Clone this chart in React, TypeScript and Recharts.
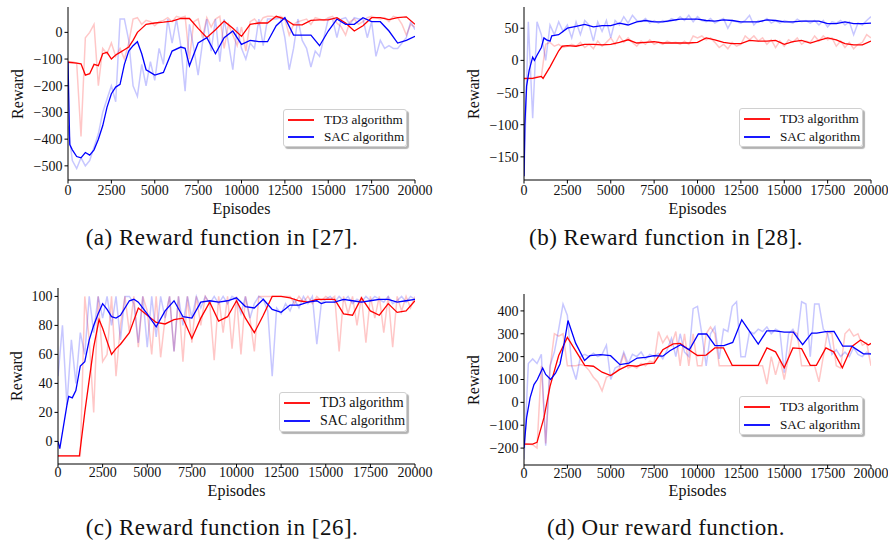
import React from "react";
import { LineChart, Line, XAxis, YAxis } from "recharts";

// episode grid for the faint raw curves
const rawEp = [
  0, 250, 500, 750, 1000, 1250, 1500, 1750, 2000, 2250,
  2500, 2750, 3000, 3250, 3500, 3750, 4000, 4250, 4500, 4750,
  5000, 5250, 5500, 5750, 6000, 6250, 6500, 6750, 7000, 7250,
  7500, 7750, 8000, 8250, 8500, 8750, 9000, 9250, 9500, 9750,
  10000, 10250, 10500, 10750, 11000, 11250, 11500, 11750, 12000, 12250,
  12500, 12750, 13000, 13250, 13500, 13750, 14000, 14250, 14500, 14750,
  15000, 15250, 15500, 15750, 16000, 16250, 16500, 16750, 17000, 17250,
  17500, 17750, 18000, 18250, 18500, 18750, 19000, 19250, 19500, 19750,
  20000,
];

const xTicks = [0, 2500, 5000, 7500, 10000, 12500, 15000, 17500, 20000];

// (a) Reward function in [27]
const aTicks = [-500, -400, -300, -200, -100, 0];
const aTd3Ep = [0, 500, 750, 1000, 1250, 1500, 1750, 2000, 2250, 2500, 2750, 3000, 3250, 3500, 3750, 4000, 4250, 4500, 5000, 5500, 6000, 6500, 7000, 7500, 8000, 8500, 9000, 9500, 10000, 10500, 11000, 11500, 12000, 12500, 13000, 13500, 14000, 14500, 15000, 15500, 16000, 16500, 17000, 17500, 18000, 18500, 19000, 19500, 20000];
const aTd3 = [-112, -115, -118, -160, -155, -120, -125, -80, -75, -100, -85, -75, -65, -55, -30, 0, 15, 30, 35, 38, 42, 52, 52, 15, -20, 10, 42, 15, -15, 30, 35, 35, 60, 50, 28, 28, 45, 47, 47, 55, 35, 5, 25, 55, 55, 48, 55, 58, 30];
const aSacEp = [0, 100, 250, 500, 750, 1000, 1250, 1500, 1750, 2000, 2250, 2500, 2750, 3000, 3250, 3500, 3750, 4000, 4250, 4500, 4750, 5000, 5500, 6000, 6500, 6750, 7000, 7500, 8000, 8500, 9000, 9500, 10000, 10500, 11000, 11500, 12000, 12500, 13000, 13500, 14000, 14500, 15000, 15500, 16000, 16500, 17000, 17500, 18000, 18500, 19000, 19500, 20000];
const aSac = [-110, -420, -440, -465, -470, -450, -460, -440, -400, -350, -280, -230, -205, -195, -120, -70, -50, -35, -80, -140, -150, -160, -150, -70, -55, -60, -125, -40, -20, -80, -20, 5, -45, -30, -35, -35, 25, 55, -10, -10, -10, -50, 5, 50, 30, 30, 55, 40, 40, 5, -40, -30, -15];
const aTd3Raw = [
  -110, -110, -115, -390, -20, 0, 30, -200, -60, -80,
  -40, -90, -60, -100, -40, 50, 55, 30, 45, 40,
  25, 40, 45, 55, 40, 60, 55, 60, -100, 40,
  50, -20, 55, 20, 50, 60, -60, 30, -10, -50,
  20, -70, 40, 50, 30, 55, 60, 60, 55, 60,
  50, -10, 30, 40, 45, 50, 30, 55, 50, 45,
  55, 60, 35, 20, -10, 40, 50, 30, 40, 55,
  60, 55, 50, 55, 40, 60, 55, 30, -10, 30,
  20,
];
const aSacRaw = [
  -350, -480, -510, -470, -500, -480, -430, -380, -300, -250,
  -200, -260, 50, 50, -30, -200, -240, -120, -200, -110,
  -180, -60, -120, 50, -40, 50, -50, -220, 30, -60,
  -160, -40, 50, -70, 50, -110, 50, -40, -140, 20,
  -60, -100, -40, -60, 50, -50, 50, 50, 50, 55,
  -20, -140, -60, 50, -30, -60, -130, -70, -90, -20,
  50, 50, -20, 50, 55, 30, 55, 50, 50, -20,
  40, -90, -30, -60, -50, -60, -60, -40, -20, 40,
  10,
];

// (b) Reward function in [28]
const bTicks = [-150, -100, -50, 0, 50];
const bTd3Ep = [0, 500, 1000, 1100, 1500, 2000, 2200, 2500, 3000, 3500, 4000, 4500, 5000, 5500, 6000, 6500, 7000, 7500, 8000, 8500, 9000, 9500, 10000, 10500, 11000, 11500, 12000, 12500, 13000, 13500, 14000, 14500, 15000, 15500, 16000, 16500, 17000, 17500, 18000, 18500, 19000, 19500, 20000];
const bTd3 = [-28, -28, -25, -28, -10, 15, 22, 23, 22, 25, 25, 24, 25, 28, 32, 27, 28, 29, 27, 27, 27, 27, 28, 35, 32, 28, 26, 26, 31, 30, 30, 31, 25, 29, 31, 27, 31, 35, 32, 26, 24, 24, 30];
const bSacEp = [0, 50, 150, 300, 500, 600, 750, 1000, 1150, 1300, 1500, 1600, 2000, 2500, 3000, 3500, 4000, 4500, 5000, 5500, 6000, 6500, 7000, 7500, 8000, 8500, 9000, 9500, 10000, 10500, 11000, 11500, 12000, 12500, 13000, 13500, 14000, 14500, 15000, 15500, 16000, 16500, 17000, 17500, 18000, 18500, 19000, 19500, 20000];
const bSac = [-180, -100, -40, -15, 5, 0, 8, 20, 35, 32, 30, 38, 40, 50, 53, 56, 52, 54, 54, 58, 55, 60, 62, 60, 60, 62, 64, 64, 64, 62, 61, 63, 62, 60, 60, 60, 63, 62, 60, 60, 61, 61, 61, 57, 57, 60, 57, 57, 58];
const bTd3Raw = [
  -30, -28, -28, -25, -25, 25, 28, 22, 25, 20,
  22, 25, 22, 28, 20, 25, 18, 30, 22, 28,
  35, 25, 38, 28, 35, 28, 22, 30, 25, 32,
  25, 28, 25, 30, 27, 28, 25, 30, 25, 38,
  35, 38, 32, 35, 28, 20, 25, 18, 28, 22,
  25, 38, 32, 38, 30, 35, 25, 32, 20, 30,
  22, 32, 28, 35, 25, 30, 28, 38, 30, 38,
  32, 35, 22, 30, 20, 28, 18, 25, 28, 40,
  35,
];
const bSacRaw = [
  -180, 60, -90, 60, 40, 0, 55, 40, 60, 45,
  55, 35, 60, 40, 62, 55, 30, 60, 45, 62,
  35, 62, 55, 68, 58, 70, 62, 60, 65, 58,
  62, 58, 62, 60, 65, 62, 68, 62, 70, 60,
  68, 62, 60, 65, 58, 62, 65, 50, 62, 60,
  58, 62, 70, 55, 62, 60, 65, 58, 62, 58,
  62, 60, 58, 64, 60, 62, 58, 62, 55, 62,
  52, 60, 58, 62, 55, 60, 40, 58, 55, 62,
  68,
];

// (c) Reward function in [26]
const cTicks = [0, 20, 40, 60, 80, 100];
const cTd3Ep = [0, 500, 1000, 1200, 1500, 2000, 2300, 2500, 3000, 3250, 3500, 4000, 4500, 5000, 5500, 6000, 6500, 7000, 7500, 8000, 8500, 9000, 9500, 10000, 10500, 11000, 11500, 12000, 12500, 13000, 13500, 14000, 14500, 15000, 15500, 16000, 16500, 17000, 17500, 18000, 18500, 19000, 19500, 20000];
const cTd3 = [-10, -10, -10, -10, 20, 65, 84, 78, 60, 64, 67, 75, 92, 87, 82, 81, 84, 85, 71, 85, 96, 83, 86, 97, 85, 75, 87, 100, 100, 99, 97, 96, 98, 98, 98, 88, 87, 99, 90, 87, 95, 89, 90, 97];
const cSacEp = [0, 100, 300, 500, 600, 800, 1000, 1250, 1500, 1750, 2000, 2250, 2500, 2750, 3000, 3250, 3500, 4000, 4250, 4500, 5000, 5500, 6000, 6500, 7000, 7500, 8000, 8500, 9000, 9500, 10000, 10500, 11000, 11500, 12000, 12500, 13000, 13500, 14000, 14500, 14750, 15000, 15500, 16000, 16500, 17000, 17500, 18000, 18500, 19000, 19500, 20000];
const cSac = [0, -5, 10, 25, 31, 30, 35, 52, 55, 70, 80, 88, 95, 91, 86, 85, 87, 97, 98, 96, 88, 79, 90, 97, 86, 85, 96, 97, 96, 97, 99, 93, 92, 98, 91, 89, 94, 94, 96, 97, 95, 96, 96, 98, 97, 96, 97, 98, 98, 96, 97, 98];
const cTd3Raw = [
  -10, -10, -10, -10, -10, -10, 100, 70, 20, 100,
  55, 60, 100, 45, 80, 100, 75, 100, 65, 100,
  90, 60, 100, 58, 85, 100, 62, 100, 55, 100,
  68, 100, 80, 100, 95, 56, 100, 75, 100, 64,
  100, 60, 100, 85, 62, 100, 100, 100, 100, 100,
  100, 100, 100, 95, 100, 96, 100, 95, 100, 97,
  100, 98, 100, 62, 100, 88, 100, 80, 100, 68,
  100, 85, 100, 75, 100, 65, 100, 90, 100, 92,
  100,
];
const cSacRaw = [
  45, 80, 25, 70, 40, 75, 60, 100, 75, 100,
  85, 100, 80, 100, 70, 100, 100, 95, 68, 100,
  65, 100, 72, 100, 85, 100, 62, 100, 80, 100,
  85, 100, 92, 100, 95, 100, 95, 100, 95, 100,
  98, 88, 100, 85, 95, 100, 98, 90, 45, 92,
  88, 95, 90, 98, 92, 100, 95, 100, 67, 95,
  98, 100, 96, 100, 97, 100, 95, 98, 96, 100,
  97, 100, 98, 96, 100, 95, 97, 100, 96, 100,
  98,
];

// (d) Our reward function
const dTicks = [-200, -100, 0, 100, 200, 300, 400];
const dTd3Ep = [0, 500, 750, 1150, 1500, 2000, 2500, 3000, 3500, 4000, 4500, 5000, 5500, 6000, 6500, 7000, 7500, 8000, 8600, 9000, 9500, 10000, 10500, 11000, 11500, 12000, 13500, 14000, 14500, 15000, 15500, 16000, 16500, 16850, 17400, 17850, 18350, 18900, 19400, 19850, 20000];
const dTd3 = [-183, -183, -175, -67, 70, 205, 284, 223, 162, 158, 132, 117, 143, 162, 158, 168, 172, 230, 256, 258, 230, 205, 207, 238, 238, 162, 162, 238, 221, 151, 238, 235, 162, 162, 238, 221, 151, 245, 273, 251, 258];
const dSacEp = [0, 150, 350, 575, 770, 1075, 1250, 1535, 1825, 2075, 2300, 2535, 2975, 3490, 3800, 4415, 4990, 5530, 6050, 6525, 7000, 7485, 8000, 8410, 9030, 9530, 10050, 10530, 11010, 11520, 12030, 12550, 13500, 13990, 14470, 15000, 15520, 16060, 16580, 16870, 17390, 17870, 18370, 18890, 19560, 20000];
const dSac = [-200, -67, 20, 78, 100, 150, 122, 100, 129, 168, 252, 358, 259, 183, 204, 209, 204, 165, 172, 194, 197, 204, 202, 226, 252, 230, 299, 299, 248, 248, 262, 361, 255, 313, 313, 307, 307, 252, 303, 303, 309, 310, 246, 246, 212, 212];
const dTd3Raw = [
  -180, -182, -185, -200, 160, -180, 150, 300, 290, 300,
  160, 160, 160, 165, 160, 140, 110, 90, 50, 110,
  120, 130, 150, 210, 150, 160, 150, 170, 160, 180,
  175, 310, 260, 290, 250, 310, 160, 300, 160, 300,
  160, 160, 300, 330, 300, 160, 160, 160, 160, 160,
  160, 160, 160, 160, 160, 160, 80, 200, 120, 190,
  100, 200, 310, 300, 160, 160, 160, 160, 90, 200,
  310, 300, 160, 150, 300, 320, 290, 300, 250, 260,
  160,
];
const dSacRaw = [
  -250, 170, 190, 170, 210, -190, 160, 220, 320, 430,
  380, 160, 100, 200, 210, 200, 215, 200, 210, 250,
  100, 150, 160, 220, 170, 210, 200, 220, 190, 210,
  200, 215, 190, 230, 280, 200, 300, 220, 200, 410,
  420, 300, 160, 300, 330, 190, 320, 310, 420, 440,
  200, 200, 310, 300, 320, 310, 330, 300, 320, 310,
  130, 300, 320, 280, 440, 430, 200, 430, 430, 320,
  300, 210, 230, 200, 220, 200, 240, 210, 200, 220,
  210,
];

const FONT = '"Liberation Serif", "DejaVu Serif", serif';
const RED = "#ff0000";
const BLUE = "#0000ff";

const minus = (v: number) => String(v).replace("-", "\u2212");

// merge the series (each with its own episodes) into one table for recharts
function buildRows(series: Record<string, [number[], number[]]>) {
  const map = new Map<number, any>();
  Object.entries(series).forEach(([key, [ep, vals]]) => {
    ep.forEach((e, i) => {
      const row = map.get(e) ?? { ep: e };
      row[key] = vals[i];
      map.set(e, row);
    });
  });
  return [...map.values()].sort((a, b) => a.ep - b.ep);
}

interface PanelProps {
  box: { x: number; y: number; w: number; h: number };
  plot: { left: number; right: number; top: number; bottom: number };
  yDomain: [number, number];
  yTicks: number[];
  rows: any[];
  legend: { left: number; top: number; w: number; h: number; fs: number };
  rewardX: number;
  episodesY: number;
  xTickGap: number;
  caption: string;
  captionY: number;
}

const Panel: React.FC<PanelProps> = ({ box, plot, yDomain, yTicks, rows, legend, rewardX, episodesY, xTickGap, caption, captionY }) => {
  const xAxisH = 30;
  const tick = { fill: "#111", fontSize: 14, fontFamily: FONT };
  const plotCx = (plot.left + plot.right) / 2;
  const rowH = Math.round((legend.h - 4) / 2);
  return (
    <>
      <div style={{ position: "absolute", left: box.x, top: box.y }}>
        <LineChart
          width={box.w}
          height={box.h}
          data={rows}
          margin={{ top: plot.top - box.y, right: box.x + box.w - plot.right, bottom: box.y + box.h - plot.bottom - xAxisH, left: 0 }}
        >
          <XAxis dataKey="ep" type="number" domain={[0, 20000]} ticks={xTicks} interval={0} height={xAxisH}
            tickSize={3.5} tickMargin={xTickGap} stroke="#000" tick={tick} allowDataOverflow />
          <XAxis xAxisId="top" dataKey="ep" type="number" orientation="top" domain={[0, 20000]} height={0}
            tick={false} tickLine={false} stroke="#000" />
          <YAxis type="number" domain={yDomain} ticks={yTicks} interval={0} width={plot.left - box.x}
            tickSize={3.5} tickMargin={2} stroke="#000" tick={tick} tickFormatter={minus} allowDataOverflow />
          <YAxis yAxisId="right" orientation="right" domain={[0, 1]} width={0} tick={false} tickLine={false} stroke="#000" />
          <Line dataKey="td3Raw" type="linear" stroke={RED} strokeOpacity={0.22} strokeWidth={1.5} dot={false} connectNulls isAnimationActive={false} />
          <Line dataKey="sacRaw" type="linear" stroke={BLUE} strokeOpacity={0.22} strokeWidth={1.5} dot={false} connectNulls isAnimationActive={false} />
          <Line dataKey="td3" type="linear" stroke={RED} strokeWidth={1.3} dot={false} connectNulls isAnimationActive={false} />
          <Line dataKey="sac" type="linear" stroke={BLUE} strokeWidth={1.3} dot={false} connectNulls isAnimationActive={false} />
        </LineChart>
      </div>
      <div style={{
        position: "absolute", left: legend.left, top: legend.top, width: legend.w, height: legend.h,
        boxSizing: "border-box", border: "1px solid #d0d0d0", borderRadius: 3, background: "rgba(255,255,255,0.9)",
        boxShadow: "2px 2px 1px rgba(0,0,0,0.3)", fontSize: legend.fs, color: "#111",
      }}>
        {[["TD3 algorithm", RED], ["SAC algorithm", BLUE]].map(([name, c], i) => (
          <div key={name} style={{ position: "absolute", left: 4, top: 1 + i * rowH, height: rowH, width: legend.w - 8 }}>
            <span style={{ position: "absolute", left: 0, top: Math.round(rowH / 2) - 1, width: 26, height: 2, background: c, opacity: 0.9 }} />
            <span style={{ position: "absolute", left: 36, top: 0, lineHeight: `${rowH}px`, whiteSpace: "nowrap" }}>{name}</span>
          </div>
        ))}
      </div>
      <div style={{ position: "absolute", left: rewardX, top: (plot.top + plot.bottom) / 2, transform: "translate(-50%,-50%) rotate(-90deg)", fontSize: 16, color: "#111", whiteSpace: "nowrap" }}>
        Reward
      </div>
      <div style={{ position: "absolute", left: plotCx, top: episodesY, transform: "translate(-50%,-50%)", fontSize: 16, lineHeight: "16px", color: "#111", whiteSpace: "nowrap" }}>
        Episodes
      </div>
      <div style={{ position: "absolute", left: box.x + box.w / 2, top: captionY, transform: "translate(-50%,-50%)", fontSize: 23, letterSpacing: 0.5, color: "#111", whiteSpace: "nowrap" }}>
        {caption}
      </div>
    </>
  );
};

const rowsA = buildRows({ td3Raw: [rawEp, aTd3Raw], sacRaw: [rawEp, aSacRaw], td3: [aTd3Ep, aTd3], sac: [aSacEp, aSac] });
const rowsB = buildRows({ td3Raw: [rawEp, bTd3Raw], sacRaw: [rawEp, bSacRaw], td3: [bTd3Ep, bTd3], sac: [bSacEp, bSac] });
const rowsC = buildRows({ td3Raw: [rawEp, cTd3Raw], sacRaw: [rawEp, cSacRaw], td3: [cTd3Ep, cTd3], sac: [cSacEp, cSac] });
const rowsD = buildRows({ td3Raw: [rawEp, dTd3Raw], sacRaw: [rawEp, dSacRaw], td3: [dTd3Ep, dTd3], sac: [dSacEp, dSac] });

export default function App() {
  return (
    <div style={{ position: "absolute", left: 0, top: 0, width: 888, height: 545, background: "#fff", fontFamily: FONT, overflow: "hidden" }}>
      <Panel box={{ x: 0, y: 0, w: 444, h: 230 }} plot={{ left: 68, right: 415, top: 7, bottom: 180 }}
        yDomain={[-553, 95]} yTicks={aTicks} rows={rowsA}
        legend={{ left: 283, top: 109, w: 124, h: 38, fs: 13.2 }} xTickGap={2}
        rewardX={18} episodesY={209} caption="(a) Reward function in [27]." captionY={238} />
      <Panel box={{ x: 444, y: 0, w: 444, h: 230 }} plot={{ left: 524, right: 871, top: 7, bottom: 180 }}
        yDomain={[-186, 83]} yTicks={bTicks} rows={rowsB}
        legend={{ left: 739, top: 108, w: 124, h: 39, fs: 13.2 }} xTickGap={2}
        rewardX={474} episodesY={209} caption="(b) Reward function in [28]." captionY={238} />
      <Panel box={{ x: 0, y: 275, w: 444, h: 230 }} plot={{ left: 58, right: 415, top: 288, bottom: 464 }}
        yDomain={[-15.6, 105.8]} yTicks={cTicks} rows={rowsC}
        legend={{ left: 279, top: 392, w: 128, h: 40, fs: 14 }} xTickGap={0}
        rewardX={17} episodesY={491} caption="(c) Reward function in [26]." captionY={528} />
      <Panel box={{ x: 444, y: 275, w: 444, h: 230 }} plot={{ left: 524, right: 871, top: 294, bottom: 465 }}
        yDomain={[-274, 474]} yTicks={dTicks} rows={rowsD}
        legend={{ left: 739, top: 396, w: 124, h: 39, fs: 13.2 }} xTickGap={0}
        rewardX={474} episodesY={491} caption="(d) Our reward function." captionY={528} />
    </div>
  );
}
